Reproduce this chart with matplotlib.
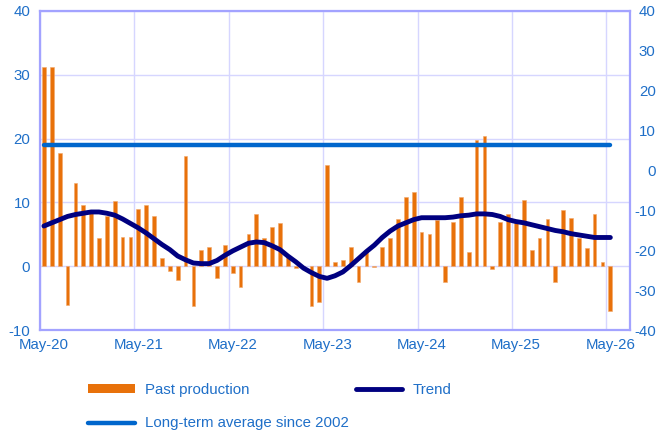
import matplotlib
matplotlib.use("Agg")
import matplotlib.pyplot as plt
from matplotlib.lines import Line2D
from matplotlib.patches import Patch

plt.rcParams['font.family'] = ['Liberation Sans', 'DejaVu Sans']
plt.rcParams['axes.unicode_minus'] = False

# ---- data (monthly, May-20 .. May-26) ----
past_production = [
    31.3, 31.3, 17.7, -6.1, 13.0, 9.6, 8.4, 4.4, 7.9, 10.2, 4.6, 4.6,
    9.0, 9.6, 7.9, 1.3, -0.8, -2.1, 17.2, -6.2, 2.5, 3.0, -1.9, 3.4,
    -1.0, -3.3, 5.1, 8.2, 4.4, 6.1, 6.7, 1.5, -0.3, -0.5, -6.2, -5.6,
    15.9, 0.6, 1.0, 3.0, -2.4, 2.6, -0.2, 3.0, 4.4, 7.4, 10.9, 11.7,
    5.4, 5.1, 7.2, -2.4, 6.9, 10.9, 2.3, 19.8, 20.4, -0.5, 6.9, 8.2,
    6.8, 10.4, 2.5, 4.4, 7.4, -2.4, 8.8, 7.6, 4.4, 2.9, 8.2, 0.6,
    -7.0,
]
trend = [
    6.3, 6.8, 7.3, 7.8, 8.1, 8.3, 8.5, 8.5, 8.3, 8.0, 7.4, 6.7,
    6.0, 5.2, 4.3, 3.4, 2.6, 1.6, 1.0, 0.5, 0.4, 0.4, 0.9, 1.7,
    2.4, 3.0, 3.6, 3.8, 3.7, 3.2, 2.6, 1.6, 0.7, -0.3, -1.0, -1.6,
    -1.9, -1.5, -0.9, 0.1, 1.2, 2.3, 3.3, 4.5, 5.5, 6.3, 6.8, 7.3,
    7.6, 7.6, 7.6, 7.6, 7.7, 7.9, 8.0, 8.2, 8.2, 8.1, 7.8, 7.3,
    7.0, 6.8, 6.5, 6.2, 5.9, 5.6, 5.4, 5.1, 4.9, 4.7, 4.5, 4.5,
    4.5,
]
long_term_average = 19.0
tick_labels = ['May-20', 'May-21', 'May-22', 'May-23', 'May-24', 'May-25', 'May-26']
left_ticks = [-10, 0, 10, 20, 30, 40]
right_ticks = [-40, -30, -20, -10, 0, 10, 20, 30, 40]

# ---- styling ----
ORANGE = '#E8710A'
NAVY = '#000080'
BLUE = '#0066CC'
TEXT = '#1F6FC8'
GRID = '#D6D6FF'
SPINE = '#A3A3FF'
FS = 10.8

W, H = 657, 434
fig = plt.figure(figsize=(W / 100, H / 100), dpi=100)
ax = fig.add_axes([40 / W, 1 - 330 / H, 590 / W, 319 / H])

n = len(past_production)
x = [i + 0.5 for i in range(n)]

ax.bar(x, past_production, width=0.47, color=ORANGE, zorder=3,
       edgecolor='#F2A86A', linewidth=0.4)
ax.plot(x, trend, color=NAVY, lw=3.5, solid_capstyle='round',
        solid_joinstyle='round', zorder=4)
ax.plot(x, [long_term_average] * n, color=BLUE, lw=3.2,
        solid_capstyle='round', zorder=4)

ax.set_xlim(0, 75)
ax.set_ylim(-10, 40)
ax.set_yticks(left_ticks)
ax.set_xticks([i * 12 for i in range(7)])
ax.set_xticklabels([])
ax.set_xticks([i * 12 + 0.5 for i in range(7)], minor=True)
ax.set_xticklabels(tick_labels, minor=True)
ax.grid(True, which='major', color=GRID, lw=1.0, zorder=0)
ax.set_axisbelow(True)
ax.tick_params(axis='both', which='both', length=0, colors=TEXT,
               labelsize=FS)
ax.tick_params(axis='x', which='minor', pad=5.5)
ax.tick_params(axis='y', pad=7)
for s in ax.spines.values():
    s.set_color(SPINE)
    s.set_linewidth(1.6)

ax2 = ax.twinx()
ax2.set_ylim(-40, 40)
ax2.set_yticks(right_ticks)
ax2.tick_params(axis='y', length=0, colors=TEXT, labelsize=FS, pad=18.5)
for lab in ax2.get_yticklabels():
    lab.set_horizontalalignment('right')
for s in ax2.spines.values():
    s.set_visible(False)

handles = [Patch(facecolor=ORANGE, edgecolor='none'),
           Line2D([], [], color=BLUE, lw=3.2, solid_capstyle='round'),
           Line2D([], [], color=NAVY, lw=3.5, solid_capstyle='round')]
labels = ['Past production', 'Long-term average since 2002', 'Trend']
leg = fig.legend(handles, labels, ncol=2, loc='upper left',
                 bbox_to_anchor=(76 / W, 1 - 371 / H), frameon=False,
                 fontsize=FS, handlelength=3.1, handleheight=0.5,
                 handletextpad=0.67, columnspacing=0.5, labelspacing=1.3,
                 borderpad=0.3)
for t in leg.get_texts():
    t.set_color(TEXT)

fig.savefig('out.png', dpi=100)
